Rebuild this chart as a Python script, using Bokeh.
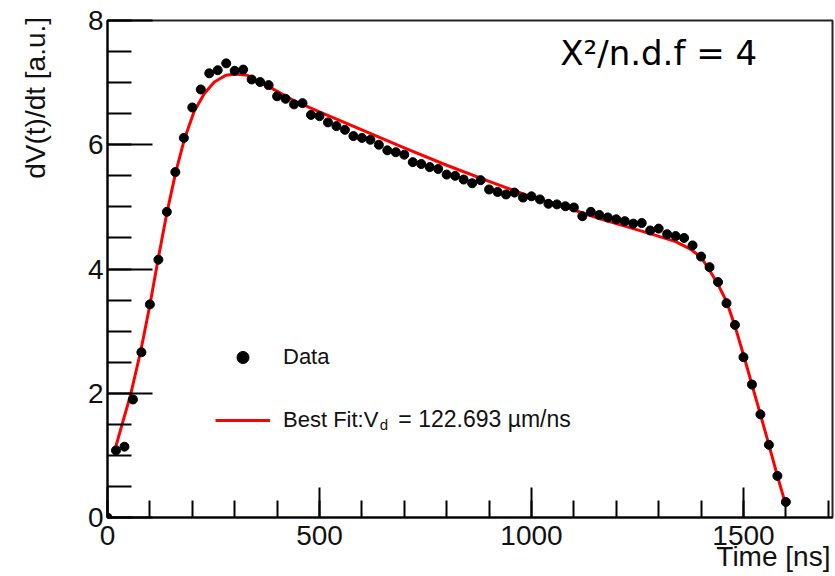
from bokeh.plotting import figure
from bokeh.models import Range1d, SingleIntervalTicker, Label, Legend, LegendItem
from bokeh.embed import file_html
from bokeh.resources import INLINE

# ---- data ----
time_ns = [0, 20, 40, 60, 80, 100, 120, 140, 160, 180,
           200, 220, 240, 260, 280, 300, 320, 340, 360, 380,
           400, 420, 440, 460, 480, 500, 520, 540, 560, 580,
           600, 620, 640, 660, 680, 700, 720, 740, 760, 780,
           800, 820, 840, 860, 880, 900, 920, 940, 960, 980,
           1000, 1020, 1040, 1060, 1080, 1100, 1120, 1140, 1160, 1180,
           1200, 1220, 1240, 1260, 1280, 1300, 1320, 1340, 1360, 1380,
           1400, 1420, 1440, 1460, 1480, 1500, 1520, 1540, 1560, 1580,
           1600]
dvdt = [0.00, 1.08, 1.14, 1.90, 2.66, 3.43, 4.15, 4.92, 5.56, 6.11,
        6.60, 6.89, 7.15, 7.20, 7.31, 7.19, 7.21, 7.05, 7.01, 6.96,
        6.78, 6.74, 6.65, 6.67, 6.48, 6.46, 6.36, 6.30, 6.24, 6.14,
        6.11, 6.08, 6.00, 5.91, 5.88, 5.84, 5.72, 5.69, 5.64, 5.61,
        5.52, 5.50, 5.44, 5.38, 5.43, 5.28, 5.24, 5.20, 5.23, 5.15,
        5.17, 5.12, 5.05, 5.04, 5.01, 4.99, 4.85, 4.92, 4.87, 4.83,
        4.80, 4.77, 4.73, 4.74, 4.62, 4.65, 4.56, 4.53, 4.50, 4.38,
        4.20, 4.03, 3.79, 3.45, 3.10, 2.58, 2.14, 1.66, 1.17, 0.67,
        0.25]

fit_t = [17, 55, 79, 100, 120, 140, 161, 181, 204, 228,
         252, 279, 303, 330, 350, 390, 437, 500, 600, 700,
         800, 900, 1000, 1100, 1160, 1220, 1280, 1340, 1375, 1400,
         1420, 1440, 1460, 1480, 1500, 1520, 1540, 1560, 1580, 1600]
fit_v = [1.08, 1.99, 2.70, 3.42, 4.18, 4.90, 5.56, 6.08, 6.53, 6.82,
         7.01, 7.12, 7.14, 7.12, 7.04, 6.90, 6.72, 6.53, 6.24, 5.95,
         5.67, 5.41, 5.16, 4.95, 4.81, 4.69, 4.57, 4.44, 4.32, 4.19,
         3.98, 3.75, 3.48, 3.08, 2.62, 2.14, 1.66, 1.17, 0.67, 0.20]

x_title = "Time [ns]"
y_title = "dV(t)/dt [a.u.]"
chi2_text = "X\u00b2/n.d.f = 4"
legend_data = "Data"
legend_fit_main = "Best Fit:V"
legend_fit_sub = "d"
legend_fit_rest = "= 122.693 \u00b5m/ns"

FONT = "Liberation Sans"
TXT = "#111111"
NBSP = "\u00a0"

p = figure(width=835, height=576, output_backend="svg", toolbar_location=None,
           x_range=Range1d(0, 1710), y_range=Range1d(0, 8),
           min_border_left=107, min_border_right=3, min_border_top=20,
           min_border_bottom=59)
p.xgrid.visible = False
p.ygrid.visible = False
p.outline_line_color = "#222222"
p.outline_line_width = 2
p.background_fill_color = "white"
p.border_fill_color = "white"

p.xaxis.ticker = SingleIntervalTicker(interval=500, num_minor_ticks=5)
p.yaxis.ticker = SingleIntervalTicker(interval=2, num_minor_ticks=4)

for ax in (p.xaxis[0], p.yaxis[0]):
    ax.axis_line_color = "black"
    ax.axis_line_width = 2
    ax.major_tick_line_color = "black"
    ax.major_tick_line_width = 2
    ax.minor_tick_line_color = "black"
    ax.minor_tick_line_width = 2
    ax.major_tick_out = 0
    ax.minor_tick_out = 0
    ax.major_label_text_font = FONT
    ax.major_label_text_font_size = "28px"
    ax.major_label_text_color = TXT
    ax.axis_label_text_font = FONT
    ax.axis_label_text_font_size = "28px"
    ax.axis_label_text_font_style = "normal"
    ax.axis_label_text_color = TXT

# axis titles sit at the far end of each axis (ROOT style): the centred
# label is pushed there with leading non-breaking spaces
p.xaxis.major_tick_in = 30
p.xaxis.minor_tick_in = 17
p.xaxis.major_label_standoff = 8
p.xaxis.axis_label = NBSP * 78 + x_title
p.xaxis.axis_label_standoff = -7

p.yaxis.major_tick_in = 45
p.yaxis.minor_tick_in = 24
p.yaxis.major_label_standoff = 4
p.yaxis.axis_label = NBSP * 44 + y_title
p.yaxis.axis_label_standoff = 34

# ---- marks ----
fit_r = p.line(fit_t, fit_v, line_color="#ff0000", line_width=3)
data_r = p.scatter(time_ns, dvdt, size=9, fill_color="black", line_color="black")

legend = Legend(items=[LegendItem(label=legend_data, renderers=[data_r]),
                       LegendItem(label=legend_fit_main, renderers=[fit_r])],
                location=(108, 82), padding=0, margin=0, spacing=33,
                glyph_height=30, glyph_width=55, label_height=30,
                label_standoff=13, border_line_color=None,
                background_fill_alpha=0,
                label_text_font=FONT, label_text_font_size="22px",
                label_text_color=TXT)
p.add_layout(legend)

p.add_layout(Label(x=642, y=1.49, text=legend_fit_sub, text_font=FONT,
                   text_font_size="15px", text_color=TXT,
                   text_baseline="alphabetic"))
p.add_layout(Label(x=686, y=1.59, text=legend_fit_rest, text_font=FONT,
                   text_font_size="23px", text_color=TXT,
                   text_baseline="alphabetic"))

p.add_layout(Label(x=1068, y=7.47, text=chi2_text, text_font="DejaVu Sans",
                   text_font_size="34px", text_color="black",
                   text_baseline="alphabetic"))

open("out.html", "w").write(file_html(p, INLINE))
